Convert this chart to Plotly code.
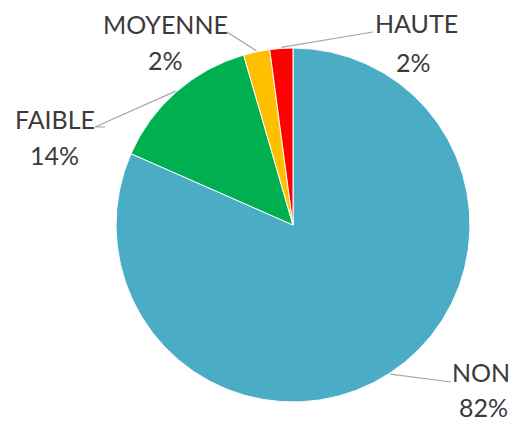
import math
import plotly.graph_objects as go

# Data
labels = ["NON", "FAIBLE", "MOYENNE", "HAUTE"]
values = [81.6, 13.9, 2.4, 2.1]
colors = ["#4BACC6", "#00B050", "#FFC000", "#FF0000"]

# the page body adds an 8px margin; size the figure to the visible area
OFF = 8
W, H = 517 - OFF, 424 - OFF
CX, CY, R = 293, 225, 177  # in reference-window pixels


def px2paper(x, y):
    return (x - OFF) / W, 1 - (y - OFF) / H


x0, y1 = px2paper(CX - R, CY - R)
x1, y0 = px2paper(CX + R, CY + R)

fig = go.Figure(go.Pie(
    labels=labels,
    values=values,
    sort=False,
    direction="clockwise",
    rotation=0,
    marker=dict(colors=colors, line=dict(color="white", width=1)),
    textinfo="none",
    hoverinfo="label+percent",
    domain=dict(x=[x0, x1], y=[y0, y1]),
    showlegend=False,
))

# label layout (pixel positions of text centers and leader elbows)
label_pos = {
    "NON": dict(name=(481, 372), pct=(483, 407), elbow=[(451, 382)]),
    "FAIBLE": dict(name=(55, 119), pct=(54, 155), elbow=[(95, 127), (105, 127)]),
    "MOYENNE": dict(name=(165, 24), pct=(165, 60), elbow=[(227, 32)]),
    "HAUTE": dict(name=(416, 23), pct=(413, 62), elbow=[(373, 32)]),
}

total = sum(values)
cum = 0.0
shapes = []
annotations = []
for lab, v in zip(labels, values):
    mid = 360.0 * (cum + v / 2) / total
    cum += v
    th = math.radians(mid)
    ex = CX + (R + 1) * math.sin(th)
    ey = CY - (R + 1) * math.cos(th)
    pts = [(ex, ey)] + label_pos[lab]["elbow"]
    path = ""
    for i, (x, y) in enumerate(pts):
        px, py = px2paper(x, y)
        path += ("M" if i == 0 else "L") + f" {px:.5f} {py:.5f} "
    shapes.append(dict(type="path", path=path.strip(), xref="paper", yref="paper",
                       line=dict(color="#A6A6A6", width=1.2)))
    nx, ny = px2paper(*label_pos[lab]["name"])
    qx, qy = px2paper(*label_pos[lab]["pct"])
    pct = round(100 * v / total)
    annotations.append(dict(x=nx, y=ny, xref="paper", yref="paper", text=lab,
                            showarrow=False, xanchor="center", yanchor="middle",
                            font=dict(family="Lato", size=25, color="#3B3B3B")))
    annotations.append(dict(x=qx, y=qy, xref="paper", yref="paper", text=f"{pct}%",
                            showarrow=False, xanchor="center", yanchor="middle",
                            font=dict(family="Lato", size=25, color="#3B3B3B")))

fig.update_layout(
    width=W, height=H,
    margin=dict(l=0, r=0, t=0, b=0),
    paper_bgcolor="white",
    plot_bgcolor="white",
    shapes=shapes,
    annotations=annotations,
)

fig.write_html("out.html")
